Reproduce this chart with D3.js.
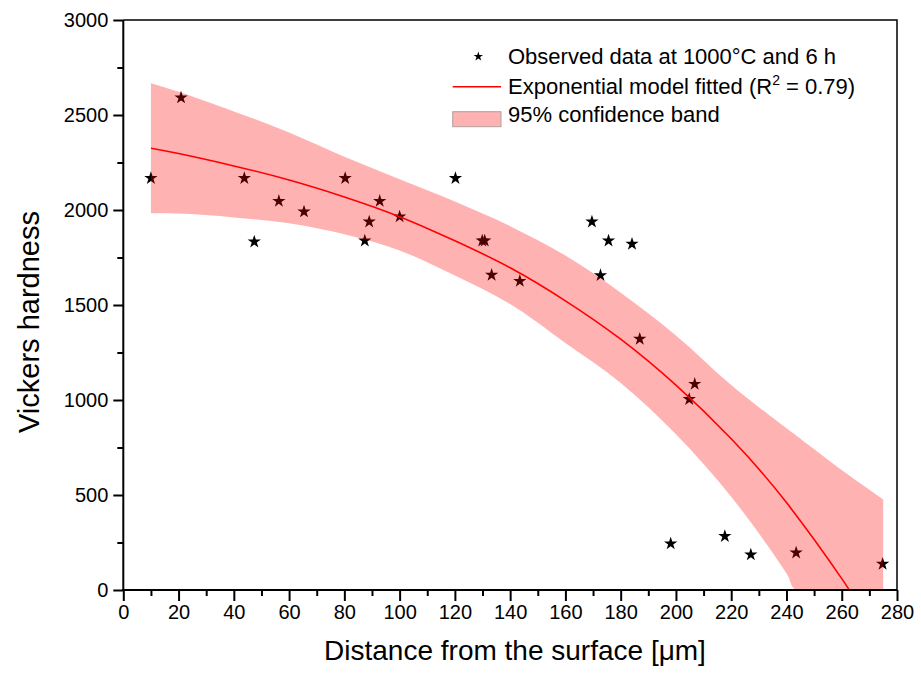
<!DOCTYPE html>
<html>
<head>
<meta charset="utf-8">
<script src="https://cdn.jsdelivr.net/npm/d3@7"></script>
<style>
  body { margin: 0; background: #fff; }
  svg { font-family: "Liberation Sans", Arial, sans-serif; }
</style>
</head>
<body>
<div id="chart"></div>
<script>
// observed hardness data
var obsDistance = [10, 20.9, 43.8, 47.4, 56.3, 65.4, 80.3, 87.4, 89.0, 92.8, 100.0, 120.2, 129.9, 130.8,
    133.3, 143.5, 169.6, 172.7, 175.6, 184.1, 186.9, 204.8, 206.8, 198.1, 217.7, 227.1, 243.5, 274.8];
var obsHardness = [2167, 2591, 2167, 1833, 2047, 1991, 2167, 1838, 1938, 2047, 1965, 2167, 1838, 1838,
    1658, 1626, 1938, 1656, 1838, 1821, 1321, 1004, 1084, 244, 283, 186, 196, 137];

// fitted curve
var fitDistance = [10, 20, 40, 60, 80, 100, 120, 140, 160, 180, 200, 220, 240, 260, 262.3];
var fitHardness = [2325, 2297, 2232, 2158, 2069, 1965, 1838, 1696, 1522, 1320, 1078, 796, 460, 60, 0];

// confidence band edges
var bandDistance = [10, 20, 40, 60, 80, 100, 120, 140, 160, 180, 200, 220, 240, 243.4, 260, 275];
var bandUpper = [2667, 2622, 2519, 2408, 2280, 2162, 2045, 1915, 1760, 1565, 1340, 1079, 851, 815, 632, 477];
var bandLower = [1982, 1981, 1961, 1930, 1872, 1787, 1655, 1505, 1300, 1090, 820, 491, 88, 0, 0, 0];

var xTicks = d3.range(0, 281, 20);
var yTicks = d3.range(0, 3001, 500);

var svgWidth = 921, svgHeight = 686;
var margin = { top: 20, left: 123.3, right: 24, bottom: 96 };
var width = 897 - margin.left;
var height = 590 - margin.top;

var svg = d3.select("#chart").append("svg")
    .attr("width", svgWidth)
    .attr("height", svgHeight);

var chartGroup = svg.append("g")
    .attr("transform", `translate(${margin.left}, ${margin.top})`);

var xScale = d3.scaleLinear().domain([0, 280]).range([0, width]);
var yScale = d3.scaleLinear().domain([0, 3000]).range([height, 0]);

chartGroup.append("clipPath").attr("id", "plotClip")
    .append("rect").attr("width", width).attr("height", height);

var plot = chartGroup.append("g").attr("clip-path", "url(#plotClip)");

var star = d3.symbol().type(d3.symbolStar);

// stars first, band goes over them (that's why they look dark red inside)
var points = obsDistance.map((d, i) => ({ x: d, y: obsHardness[i] }));
plot.selectAll(".obs")
    .data(points)
    .enter()
    .append("path")
    .attr("class", "obs")
    .attr("d", star.size(55)())
    .attr("transform", d => `translate(${xScale(d.x)}, ${yScale(d.y)})`)
    .attr("fill", "black");

var band = bandDistance.map((d, i) => ({ x: d, hi: bandUpper[i], lo: bandLower[i] }));
plot.append("path")
    .datum(band)
    .attr("fill", "red")
    .attr("fill-opacity", 0.3)
    .attr("d", d3.area()
        .x(d => xScale(d.x))
        .y0(d => yScale(d.lo))
        .y1(d => yScale(d.hi))
        .curve(d3.curveCatmullRom.alpha(0.5)));

var fit = fitDistance.map((d, i) => ({ x: d, y: fitHardness[i] }));
plot.append("path")
    .datum(fit)
    .attr("fill", "none")
    .attr("stroke", "red")
    .attr("stroke-width", 1.6)
    .attr("d", d3.line()
        .x(d => xScale(d.x))
        .y(d => yScale(d.y))
        .curve(d3.curveNatural));

// frame top / right
chartGroup.append("path")
    .attr("d", `M0,0H${width}V${height}`)
    .attr("fill", "none")
    .attr("stroke", "black")
    .attr("stroke-width", 1.5);

// axes
var xAxis = d3.axisBottom(xScale).tickValues(xTicks).tickSize(11).tickPadding(4).tickFormat(d3.format("d"));
var xMinor = d3.axisBottom(xScale).tickValues(d3.range(10, 280, 20)).tickSize(6).tickFormat("");
var yAxis = d3.axisLeft(yScale).tickValues(yTicks).tickSize(10).tickPadding(5).tickFormat(d3.format("d"));
var yMinor = d3.axisLeft(yScale).tickValues(d3.range(250, 3000, 500)).tickSize(6).tickFormat("");

function styleAxis(g) {
    g.select(".domain").remove();
    g.selectAll(".tick line").attr("stroke-width", 2);
    g.selectAll("text").attr("font-size", 20).attr("fill", "black")
        .attr("font-family", "'Liberation Sans', Arial, sans-serif");
}

chartGroup.append("g").attr("transform", `translate(0, ${height})`).call(xMinor).call(styleAxis);
chartGroup.append("g").attr("transform", `translate(0, ${height})`).call(xAxis).call(styleAxis);
chartGroup.append("g").call(yMinor).call(styleAxis);
chartGroup.append("g").call(yAxis).call(styleAxis);

chartGroup.append("line").attr("x1", -1).attr("x2", width).attr("y1", height).attr("y2", height)
    .attr("stroke", "black").attr("stroke-width", 2);
chartGroup.append("line").attr("x1", 0).attr("x2", 0).attr("y1", 0).attr("y2", height)
    .attr("stroke", "black").attr("stroke-width", 2);

// axis titles
svg.append("text")
    .attr("x", 515)
    .attr("y", 660)
    .attr("text-anchor", "middle")
    .attr("font-size", 28)
    .text("Distance from the surface [\u03bcm]");

svg.append("text")
    .attr("transform", "rotate(-90)")
    .attr("x", -322)
    .attr("y", 39)
    .attr("text-anchor", "middle")
    .attr("font-size", 29)
    .text("Vickers hardness");

// legend
var legend = svg.append("g").attr("font-size", 22);

legend.append("path")
    .attr("d", star.size(28)())
    .attr("transform", "translate(478.3, 56.5)")
    .attr("fill", "black");
legend.append("text").attr("x", 508).attr("y", 64)
    .text("Observed data at 1000\u00b0C and 6 h");

legend.append("line")
    .attr("x1", 452.7).attr("x2", 501).attr("y1", 86.7).attr("y2", 86.7)
    .attr("stroke", "red").attr("stroke-width", 1.6);
var fitLabel = legend.append("text").attr("x", 508).attr("y", 93.5);
fitLabel.append("tspan").text("Exponential model fitted (R");
fitLabel.append("tspan").attr("font-size", 14).attr("dy", -9).text("2");
fitLabel.append("tspan").attr("dy", 9).text(" = 0.79)");

legend.append("rect")
    .attr("x", 452.7).attr("y", 111.7).attr("width", 48.3).attr("height", 15)
    .attr("fill", "red").attr("fill-opacity", 0.3)
    .attr("stroke", "#b0a0a0").attr("stroke-width", 1);
legend.append("text").attr("x", 508).attr("y", 122)
    .text("95% confidence band");
</script>
</body>
</html>
